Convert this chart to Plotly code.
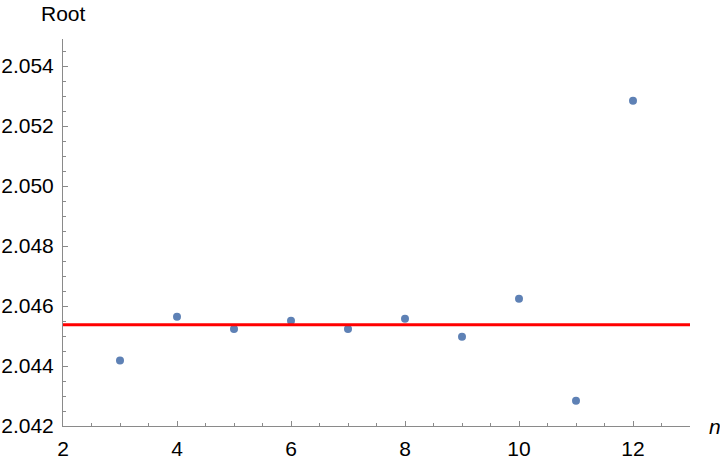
import plotly.graph_objects as go

n_values = [3, 4, 5, 6, 7, 8, 9, 10, 11, 12]
root_estimates = [2.04418, 2.045643, 2.045233, 2.04551, 2.045233, 2.045578,
                  2.044978, 2.046244, 2.042844, 2.052844]
root_value = 2.045378

x_range = [2, 13]
y_range = [2.042, 2.0549]

FONT = "Liberation Sans, Arial, sans-serif"

fig = go.Figure()
fig.add_trace(go.Scatter(
    x=n_values, y=root_estimates, mode="markers",
    marker=dict(color="#5E81B5", size=8),
    hoverinfo="x+y", showlegend=False,
))
fig.add_hline(y=root_value, line=dict(color="#FF0000", width=3))

axis_common = dict(
    showgrid=False, zeroline=False, showline=True, linecolor="#8a8a8a", linewidth=1,
    ticks="inside", tickcolor="#8a8a8a", ticklen=5, tickwidth=1,
    tickfont=dict(family=FONT, size=21, color="#000000"),
    mirror=False, automargin=False, ticklabelstandoff=4,
)

fig.update_xaxes(range=x_range, tick0=2, dtick=2, **axis_common,
                 minor=dict(dtick=0.5, ticks="inside", ticklen=3, tickcolor="#8a8a8a"))
fig.update_yaxes(range=y_range, tick0=2.042, dtick=0.002, tickformat=".3f", **axis_common,
                 minor=dict(dtick=0.0005, ticks="inside", ticklen=3, tickcolor="#8a8a8a"))

fig.add_annotation(text="Root", xref="paper", yref="paper", x=-0.039, y=1.067,
                   xanchor="left", yanchor="middle", showarrow=False,
                   font=dict(family=FONT, size=21, color="#000000"))
fig.add_annotation(text="<i>n</i>", xref="paper", yref="paper", x=1.027, y=0.0,
                   xanchor="left", yanchor="middle", showarrow=False,
                   font=dict(family=FONT, size=21, color="#000000"))

fig.update_layout(
    width=720, height=460,
    margin=dict(l=63, r=30, t=39, b=34),
    paper_bgcolor="white", plot_bgcolor="white",
)

fig.write_html("out.html", config={"displayModeBar": False},
               post_script="document.body.style.margin='0';")
